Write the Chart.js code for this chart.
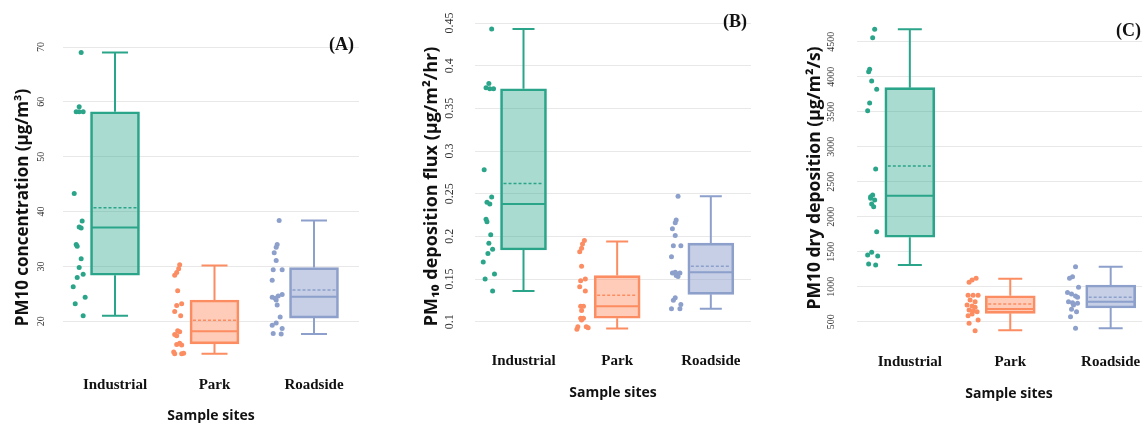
<!DOCTYPE html>
<html>
<head>
<meta charset="utf-8">
<script src="https://cdn.jsdelivr.net/npm/chart.js@4.4.0/dist/chart.umd.min.js"></script>
<style>
  html, body { margin: 0; padding: 0; background: #fff; overflow: hidden; width: 1142px; height: 427px; }
  canvas { position: absolute; top: 0; }
</style>
</head>
<body>
<canvas id="panelA" width="380" height="427" style="left:0"></canvas>
<canvas id="panelB" width="380" height="427" style="left:380px"></canvas>
<canvas id="panelC" width="405" height="427" style="left:760px"></canvas>
<script>
// ---------- data ----------
const sites = ['Industrial', 'Park', 'Roadside'];

// (A) PM10 concentration, µg/m³
const concTicks = [20, 30, 40, 50, 60, 70];
const concMin    = [21.0, 14.1, 17.7];
const concQ1     = [28.4, 15.9, 20.6];
const concMedian = [37.1, 18.2, 24.5];
const concQ3     = [58.2, 23.9, 29.8];
const concMax    = [69.0, 30.2, 38.4];
const concMean   = [40.7, 20.2, 25.7];
const concIndustrial = [69.0, 59.1, 58.2, 58.2, 58.2, 43.3, 38.3, 37.2, 37.0, 34.0, 33.7, 31.4, 29.8, 28.6, 28.0, 26.3, 24.4, 23.2, 21.0];
const concPark       = [30.3, 29.6, 28.9, 28.4, 25.6, 23.2, 22.9, 21.8, 21.0, 18.3, 18.1, 17.6, 17.4, 16.0, 15.8, 15.7, 14.4, 14.2, 14.1, 14.1];
const concRoadside   = [38.4, 34.0, 33.5, 32.5, 31.1, 29.4, 29.4, 27.5, 24.9, 24.6, 24.4, 24.2, 23.9, 23.0, 20.8, 19.7, 19.3, 18.7, 17.8, 17.7];

// (B) PM10 deposition flux, µg/m²/hr
const fluxTicks = [0.1, 0.15, 0.2, 0.25, 0.3, 0.35, 0.4, 0.45];
const fluxMin    = [0.136, 0.092, 0.115];
const fluxQ1     = [0.184, 0.104, 0.132];
const fluxMedian = [0.238, 0.118, 0.158];
const fluxQ3     = [0.373, 0.154, 0.192];
const fluxMax    = [0.443, 0.194, 0.247];
const fluxMean   = [0.262, 0.131, 0.165];
const fluxIndustrial = [0.443, 0.379, 0.374, 0.373, 0.373, 0.278, 0.246, 0.240, 0.238, 0.220, 0.217, 0.202, 0.192, 0.185, 0.180, 0.170, 0.156, 0.150, 0.136];
const fluxPark       = [0.195, 0.191, 0.186, 0.182, 0.165, 0.150, 0.148, 0.141, 0.136, 0.118, 0.118, 0.113, 0.104, 0.104, 0.102, 0.094, 0.094, 0.093, 0.091];
const fluxRoadside   = [0.247, 0.219, 0.216, 0.209, 0.201, 0.189, 0.189, 0.176, 0.157, 0.158, 0.156, 0.157, 0.154, 0.153, 0.128, 0.125, 0.120, 0.115, 0.115];

// (C) PM10 dry deposition, µg/m²/s
const depTicks = [500, 1000, 1500, 2000, 2500, 3000, 3500, 4000, 4500];
const depMin    = [1310, 377, 406];
const depQ1     = [1706, 620, 696];
const depMedian = [2300, 681, 786];
const depQ3     = [3843, 871, 1024];
const depMax    = [4677, 1114, 1286];
const depMean   = [2724, 753, 849];
const depIndustrial = [4677, 4557, 4106, 4071, 3939, 3820, 3624, 3514, 2681, 2310, 2286, 2263, 2239, 2181, 2143, 1786, 1491, 1453, 1439, 1324, 1310];
const depPark       = [1120, 1096, 1063, 877, 877, 877, 810, 786, 739, 724, 706, 667, 657, 643, 610, 586, 524, 477, 371];
const depRoadside   = [1286, 1143, 1120, 991, 917, 896, 867, 849, 786, 771, 763, 739, 677, 643, 571, 406];

// ---------- styling ----------
const strokes = ['#2ba58a', '#fc8d62', '#8da0cb'];
const fills = ['rgba(43,165,138,0.40)', 'rgba(252,141,98,0.45)', 'rgba(141,160,203,0.50)'];
const serif = "'Liberation Serif', 'Times New Roman', serif";
const sans = "'Open Sans', 'DejaVu Sans', sans-serif";

// horizontal strip offsets of the raw points, in category widths (left of each box)
const strip = {
  conc: [
    [-0.34,-0.36,-0.39,-0.36,-0.32,-0.41,-0.33,-0.36,-0.34,-0.39,-0.38,-0.34,-0.36,-0.32,-0.38,-0.42,-0.30,-0.40,-0.32],
    [-0.35,-0.36,-0.38,-0.40,-0.37,-0.33,-0.38,-0.40,-0.34,-0.37,-0.35,-0.40,-0.38,-0.35,-0.38,-0.33,-0.41,-0.31,-0.40,-0.33],
    [-0.35,-0.37,-0.38,-0.40,-0.38,-0.41,-0.32,-0.42,-0.32,-0.36,-0.42,-0.39,-0.38,-0.37,-0.34,-0.38,-0.42,-0.32,-0.41,-0.33]
  ],
  flux: [
    [-0.34,-0.37,-0.40,-0.36,-0.32,-0.42,-0.34,-0.39,-0.36,-0.40,-0.39,-0.35,-0.37,-0.33,-0.38,-0.43,-0.31,-0.41,-0.33],
    [-0.35,-0.37,-0.38,-0.40,-0.38,-0.34,-0.39,-0.40,-0.34,-0.39,-0.36,-0.38,-0.36,-0.39,-0.38,-0.42,-0.33,-0.31,-0.43],
    [-0.35,-0.37,-0.38,-0.41,-0.38,-0.40,-0.32,-0.42,-0.41,-0.38,-0.36,-0.33,-0.37,-0.35,-0.38,-0.40,-0.32,-0.42,-0.33]
  ],
  dep: [
    [-0.35,-0.37,-0.40,-0.41,-0.38,-0.33,-0.40,-0.42,-0.34,-0.37,-0.39,-0.39,-0.35,-0.38,-0.36,-0.33,-0.38,-0.42,-0.32,-0.41,-0.34],
    [-0.34,-0.38,-0.41,-0.42,-0.37,-0.32,-0.40,-0.35,-0.43,-0.38,-0.35,-0.41,-0.37,-0.33,-0.38,-0.42,-0.32,-0.41,-0.35],
    [-0.35,-0.38,-0.41,-0.32,-0.43,-0.39,-0.35,-0.33,-0.42,-0.38,-0.33,-0.37,-0.39,-0.34,-0.40,-0.35]
  ]
};

const panels = [
  {
    canvas: 'panelA', tag: '(A)', tagX: 329, tagY: 45,
    yTitle: 'PM10 concentration (µg/m³)', ticks: concTicks,
    min: concMin, q1: concQ1, median: concMedian, q3: concQ3, max: concMax, mean: concMean,
    points: [concIndustrial, concPark, concRoadside], strip: strip.conc,
    yMin: 11.5, yMax: 70, xMin: -0.5226, xMax: 2.4523,
    padTop: 47, padRight: 21, yAxisWidth: 63, xAxisHeight: 59,
    yTickFont: 10, yTickPad: 17, yTitleFont: 17, yTitlePad: 12.8, xTickPad: 8, xTitlePad: 2.6,
    boxWidth: 49, capWidth: 26
  },
  {
    canvas: 'panelB', tag: '(B)', tagX: 343, tagY: 22,
    yTitle: 'PM₁₀ deposition flux (µg/m²/hr)', ticks: fluxTicks,
    min: fluxMin, q1: fluxQ1, median: fluxMedian, q3: fluxQ3, max: fluxMax, mean: fluxMean,
    points: [fluxIndustrial, fluxPark, fluxRoadside], strip: strip.flux,
    yMin: 0.0668, yMax: 0.45, xMin: -0.518, xMax: 2.429,
    padTop: 23, padRight: 9, yAxisWidth: 95, xAxisHeight: 77,
    yTickFont: 12, yTickPad: 14.5, yTitleFont: 18, yTitlePad: 41.2, xTickPad: 2, xTitlePad: 25.6,
    boxWidth: 46, capWidth: 22
  },
  {
    canvas: 'panelC', tag: '(C)', tagX: 356, tagY: 31,
    yTitle: 'PM10 dry deposition (µg/m²/s)', ticks: depTicks,
    min: depMin, q1: depQ1, median: depMedian, q3: depQ3, max: depMax, mean: depMean,
    points: [depIndustrial, depPark, depRoadside], strip: strip.dep,
    yMin: 296, yMax: 4810, xMin: -0.526, xMax: 2.501,
    padTop: 20, padRight: 0, yAxisWidth: 97, xAxisHeight: 91,
    yTickFont: 10, yTickPad: 15.7, yTitleFont: 17.5, yTitlePad: 44.5, xTickPad: 17, xTitlePad: 24.6,
    boxWidth: 50, capWidth: 24
  }
];

// whiskers, median and mean lines drawn on top of the box bars
function boxLines(p) {
  return {
    id: 'boxLines',
    afterDatasetsDraw(chart) {
      const { ctx, scales: { x, y } } = chart;
      ctx.save();
      sites.forEach((s, i) => {
        const cx = x.getPixelForValue(i);
        const half = p.boxWidth / 2;
        const cap = p.capWidth / 2;
        const yMin = y.getPixelForValue(p.min[i]);
        const yQ1 = y.getPixelForValue(p.q1[i]);
        const yMed = y.getPixelForValue(p.median[i]);
        const yQ3 = y.getPixelForValue(p.q3[i]);
        const yMax = y.getPixelForValue(p.max[i]);
        const yMean = y.getPixelForValue(p.mean[i]);
        ctx.strokeStyle = strokes[i];
        ctx.lineWidth = 2;
        ctx.setLineDash([]);
        ctx.beginPath();
        ctx.moveTo(cx, yQ3); ctx.lineTo(cx, yMax);
        ctx.moveTo(cx - cap, yMax); ctx.lineTo(cx + cap, yMax);
        ctx.moveTo(cx, yQ1); ctx.lineTo(cx, yMin);
        ctx.moveTo(cx - cap, yMin); ctx.lineTo(cx + cap, yMin);
        ctx.moveTo(cx - half + 1, yMed); ctx.lineTo(cx + half - 1, yMed);
        ctx.stroke();
        ctx.lineWidth = 1.5;
        ctx.setLineDash([3, 2]);
        ctx.beginPath();
        ctx.moveTo(cx - half + 3, yMean); ctx.lineTo(cx + half - 3, yMean);
        ctx.stroke();
      });
      ctx.restore();
    }
  };
}

// panel letter in the upper right corner
function panelTag(p) {
  return {
    id: 'panelTag',
    afterDraw(chart) {
      const ctx = chart.ctx;
      ctx.save();
      ctx.font = 'bold 18px ' + serif;
      ctx.fillStyle = '#111';
      ctx.textAlign = 'left';
      ctx.textBaseline = 'middle';
      ctx.fillText(p.tag, p.tagX, p.tagY);
      ctx.restore();
    }
  };
}

function makePanel(p) {
  const datasets = [{
    type: 'bar',
    data: sites.map((s, i) => ({ x: i, y: [p.q1[i], p.q3[i]] })),
    backgroundColor: fills,
    borderColor: strokes,
    borderWidth: 2,
    borderSkipped: false,
    barThickness: p.boxWidth,
    order: 2
  }];
  p.points.forEach((vals, i) => {
    datasets.push({
      type: 'scatter',
      label: sites[i],
      data: vals.map((v, k) => ({ x: i + p.strip[i][k], y: v })),
      pointBackgroundColor: strokes[i],
      pointBorderWidth: 0,
      pointRadius: 2.5,
      clip: false,
      order: 1
    });
  });

  new Chart(document.getElementById(p.canvas), {
    type: 'bar',
    data: { datasets },
    options: {
      responsive: false,
      animation: false,
      events: [],
      layout: { padding: { left: 0, top: p.padTop, right: p.padRight, bottom: 0 } },
      plugins: { legend: { display: false }, tooltip: { enabled: false } },
      scales: {
        x: {
          type: 'linear', min: p.xMin, max: p.xMax, offset: false,
          grid: { display: false, drawTicks: false, offset: false },
          border: { display: false },
          afterBuildTicks: s => { s.ticks = sites.map((_, i) => ({ value: i })); },
          afterFit: s => { s.height = p.xAxisHeight; s.paddingLeft = 0; s.paddingRight = 0; },
          ticks: {
            autoSkip: false, maxRotation: 0, padding: p.xTickPad, color: '#111',
            font: { family: serif, size: 15, weight: 'bold' },
            callback: v => sites[v]
          },
          title: {
            display: true, text: 'Sample sites', color: '#111',
            font: { family: sans, size: 14, weight: 'bold' },
            padding: { top: 0, bottom: p.xTitlePad }
          }
        },
        y: {
          type: 'linear', min: p.yMin, max: p.yMax, beginAtZero: false,
          grid: { color: '#e8e8e8', lineWidth: 1, drawTicks: false },
          border: { display: false },
          afterBuildTicks: s => { s.ticks = p.ticks.map(v => ({ value: v })); },
          afterFit: s => { s.width = p.yAxisWidth; s.paddingTop = 0; s.paddingBottom = 0; },
          ticks: {
            autoSkip: false, minRotation: 90, maxRotation: 90, crossAlign: 'center',
            padding: p.yTickPad, color: '#333',
            font: { family: serif, size: p.yTickFont },
            callback: v => String(v)
          },
          title: {
            display: true, text: p.yTitle, color: '#111',
            font: { family: sans, size: p.yTitleFont, weight: 'bold' },
            padding: { top: p.yTitlePad, bottom: 0 }
          }
        }
      }
    },
    plugins: [boxLines(p), panelTag(p)]
  });
}

panels.forEach(makePanel);
</script>
</body>
</html>
